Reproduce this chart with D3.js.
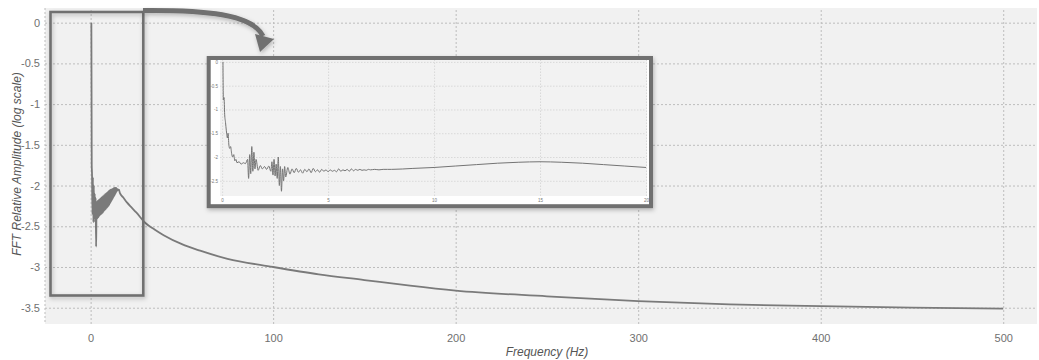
<!DOCTYPE html>
<html><head><meta charset="utf-8">
<script src="https://cdn.jsdelivr.net/npm/d3@7"></script>
<style>
html,body{margin:0;padding:0;background:#fff;}
svg{display:block;font-family:"Liberation Sans",Arial,sans-serif;}
</style></head>
<body>
<svg id="chart" width="1039" height="360"></svg>
<script>
// ---------- DATA ----------
// main spectrum (Hz, log10 relative amplitude)
const freq = [0.4,0.6,0.75,1.0,1.25,1.5,1.75,2.0,2.25,2.5,2.75,3.0,
  3.125,3.25,3.375,3.5,3.625,3.75,3.875,4.0,4.125,4.25,4.375,4.5,4.625,4.75,4.875,5.0,5.125,5.25,5.375,5.5,5.625,5.75,5.875,6.0,
  6.125,6.25,6.375,6.5,6.625,6.75,6.875,7.0,7.125,7.25,7.375,7.5,7.625,7.75,7.875,8.0,8.125,8.25,8.375,8.5,8.625,8.75,8.875,9.0,
  9.125,9.25,9.375,9.5,9.625,9.75,9.875,10.0,10.125,10.25,10.375,10.5,10.625,10.75,10.875,11.0,11.125,11.25,11.375,11.5,11.625,11.75,11.875,12.0,
  12.125,12.25,12.375,12.5,12.625,12.75,12.875,13.0,13.125,13.25,13.375,13.5,13.625,13.75,13.875,14.0,14.25,14.5,14.75,15.0,15.5,16,
  18,20,22,25,30,35,40,50,60,75,100,125,150,175,200,250,300,350,400,450,500];
const amp  = [0,-1.75,-1.85,-2.35,-1.9,-2.45,-2.0,-2.4,-2.1,-2.45,-2.15,-2.75,
  -2.5,-2.2,-2.42,-2.22,-2.38,-2.19,-2.4,-2.21,-2.37,-2.18,-2.39,-2.2,-2.36,-2.17,-2.37,-2.19,-2.35,-2.16,-2.36,-2.18,-2.34,-2.15,-2.35,-2.17,
  -2.33,-2.14,-2.34,-2.16,-2.32,-2.13,-2.33,-2.15,-2.31,-2.12,-2.31,-2.14,-2.3,-2.11,-2.3,-2.13,-2.29,-2.1,-2.29,-2.12,-2.28,-2.09,-2.27,-2.11,
  -2.27,-2.08,-2.26,-2.1,-2.25,-2.07,-2.25,-2.09,-2.24,-2.06,-2.23,-2.08,-2.22,-2.05,-2.21,-2.07,-2.2,-2.05,-2.19,-2.06,-2.18,-2.04,-2.17,-2.05,
  -2.16,-2.04,-2.15,-2.04,-2.14,-2.03,-2.13,-2.04,-2.12,-2.03,-2.11,-2.03,-2.1,-2.03,-2.09,-2.03,-2.07,-2.04,-2.06,-2.05,-2.05,-2.09,
  -2.15,-2.21,-2.26,-2.33,-2.46,-2.54,-2.61,-2.72,-2.8,-2.9,-3.0,-3.09,-3.16,-3.23,-3.29,-3.36,-3.42,-3.46,-3.48,-3.5,-3.51];
// inset: zoom of 0–20 Hz
const insetFreq = [0.04,0.06,0.09,0.12,0.16,0.2,0.25,0.28,0.32,0.36,0.4,0.45,0.5,0.55,0.6,0.65,0.7,0.8,0.9,1.0,1.1,1.2,1.25,1.3,1.35,1.4,1.45,1.5,1.55,1.6,1.7,1.8,1.9,2.0,2.1,2.2,2.3,2.35,2.4,2.45,2.5,2.55,2.6,2.65,2.7,2.75,2.8,2.85,2.9,2.95,3.0,3.1,3.2,3.3,3.4,3.5,3.6,3.7,3.8,3.9,4.0,4.1,4.2,4.3,4.4,4.5,4.6,4.7,4.8,4.9,5.0,5.1,5.2,5.3,5.4,5.5,5.6,5.7,5.8,5.9,6.0,6.1,6.2,6.3,6.4,6.5,6.6,6.7,6.8,6.9,7.0,7.2,7.4,7.6,7.8,8.0,9,10,11,12,13,14,15,16,17,18,19,20];
const insetAmp  = [0,-0.8,-0.75,-1.1,-1.27,-1.45,-1.6,-1.5,-1.75,-1.82,-1.78,-1.93,-2.0,-1.95,-2.08,-2.05,-2.12,-2.1,-2.15,-2.12,-2.14,-2.05,-2.45,-1.95,-2.35,-1.78,-2.3,-1.9,-2.25,-2.05,-2.28,-2.18,-2.25,-2.2,-2.26,-2.19,-2.3,-2.1,-2.38,-2.05,-2.4,-2.15,-2.45,-2.0,-2.6,-2.2,-2.72,-2.25,-2.5,-2.2,-2.42,-2.22,-2.36,-2.25,-2.33,-2.24,-2.32,-2.27,-2.34,-2.26,-2.31,-2.25,-2.33,-2.24,-2.31,-2.27,-2.32,-2.26,-2.3,-2.27,-2.31,-2.27,-2.3,-2.28,-2.31,-2.25,-2.3,-2.27,-2.29,-2.26,-2.3,-2.25,-2.29,-2.26,-2.28,-2.26,-2.28,-2.27,-2.28,-2.26,-2.27,-2.26,-2.27,-2.26,-2.26,-2.26,-2.24,-2.22,-2.19,-2.16,-2.13,-2.11,-2.1,-2.11,-2.13,-2.16,-2.19,-2.22];
const xTicks = [0,100,200,300,400,500];
const yTicks = [0,-0.5,-1,-1.5,-2,-2.5,-3,-3.5];
const insetXTicks = [0,5,10,15,20];
const insetYTicks = [0,-0.5,-1,-1.5,-2,-2.5];
const xTitle = "Frequency (Hz)";
const yTitle = "FFT Relative Amplitude (log scale)";

// ---------- DRAW ----------
const svg = d3.select("#chart");
const defs = svg.append("defs");
const f = defs.append("filter").attr("id","shadow").attr("x","-10%").attr("y","-10%").attr("width","130%").attr("height","130%");
f.append("feDropShadow").attr("dx",1).attr("dy",2).attr("stdDeviation",2).attr("flood-color","#000").attr("flood-opacity",0.25);

const grey = "#707070";
const x = d3.scaleLinear().domain([-25, 518.5]).range([45, 1037]);
const y = d3.scaleLinear().domain([0.18, -3.7]).range([8, 324]);

svg.append("rect").attr("x",45).attr("y",8).attr("width",992).attr("height",316).attr("fill","#f1f1f1");

// grid
const gx = svg.append("g").attr("transform","translate(0,324)")
  .call(d3.axisBottom(x).tickValues(xTicks).tickSize(-316).tickFormat(d3.format("d")).tickPadding(10));
const gy = svg.append("g").attr("transform","translate(45,0)")
  .call(d3.axisLeft(y).tickValues(yTicks).tickSize(-992).tickFormat(d=>d===0?"0":String(d)).tickPadding(5));
[gx,gy].forEach(g=>{
  g.select(".domain").remove();
  g.selectAll(".tick line").attr("stroke","#bdbdbd").attr("stroke-dasharray","2,2");
  g.selectAll(".tick text").attr("fill","#707070").attr("font-size",11).attr("font-family","Liberation Sans, Arial, sans-serif");
});
svg.append("line").attr("x1",45).attr("x2",45).attr("y1",8).attr("y2",324)
  .attr("stroke","#bdbdbd").attr("stroke-dasharray","2,2");

const mainData = freq.map((d,i)=>[d,amp[i]]);
const line = d3.line().x(d=>x(d[0])).y(d=>y(d[1])).curve(d3.curveMonotoneX);
svg.append("path").datum(mainData).attr("d",line).attr("fill","none").attr("stroke","#7a7a7a").attr("stroke-width",1.8);

// titles
svg.append("text").attr("x",547).attr("y",356).attr("text-anchor","middle")
  .attr("font-size",12).attr("font-style","italic").attr("fill","#555").text(xTitle);
svg.append("text").attr("transform","translate(21,164) rotate(-90)").attr("text-anchor","middle")
  .attr("font-size",12).attr("font-style","italic").attr("fill","#555").text(yTitle);

// zoom box
svg.append("rect").attr("x",50.5).attr("y",12).attr("width",92.8).attr("height",283.5)
  .attr("fill","none").attr("stroke",grey).attr("stroke-width",2.6).attr("filter","url(#shadow)");

// arrow
const ag = svg.append("g").attr("filter","url(#shadow)");
ag.append("path").attr("d","M143,10.5 C205,10 252,14 263,36")
  .attr("fill","none").attr("stroke",grey).attr("stroke-width",5);
ag.append("path").attr("d","M255,34 L274,39 L260,52 Z").attr("fill",grey);

// inset
const ig = svg.append("g");
ig.append("rect").attr("x",208.7).attr("y",58).attr("width",442.3).attr("height",148.2)
  .attr("fill","#fff").attr("stroke",grey).attr("stroke-width",4).attr("filter","url(#shadow)");
const xi = d3.scaleLinear().domain([-0.1, 20]).range([220, 646]);
const yi = d3.scaleLinear().domain([0.04, -2.82]).range([60, 196]);
ig.append("rect").attr("x",220).attr("y",60).attr("width",427).attr("height",136).attr("fill","#f2f2f2");
const igx = ig.append("g").attr("transform","translate(0,196)")
  .call(d3.axisBottom(xi).tickValues(insetXTicks).tickSize(-136).tickPadding(3).tickFormat(d3.format("d")));
const igy = ig.append("g").attr("transform","translate(220,0)")
  .call(d3.axisLeft(yi).tickValues(insetYTicks).tickSize(-426).tickPadding(2).tickFormat(d=>String(d)));
[igx,igy].forEach(g=>{
  g.select(".domain").remove();
  g.selectAll(".tick line").attr("stroke","#cfcfcf").attr("stroke-dasharray","1.5,1.5").attr("stroke-width",0.7);
  g.selectAll(".tick text").attr("fill","#777").attr("font-size",4.5).attr("font-family","Liberation Sans, Arial, sans-serif");
});
const insetData = insetFreq.map((d,i)=>[d,insetAmp[i]]);
const iline = d3.line().x(d=>xi(d[0])).y(d=>yi(d[1])).curve(d3.curveMonotoneX);
ig.append("path").datum(insetData).attr("d",iline).attr("fill","none").attr("stroke","#747474").attr("stroke-width",1);
</script>
</body></html>
